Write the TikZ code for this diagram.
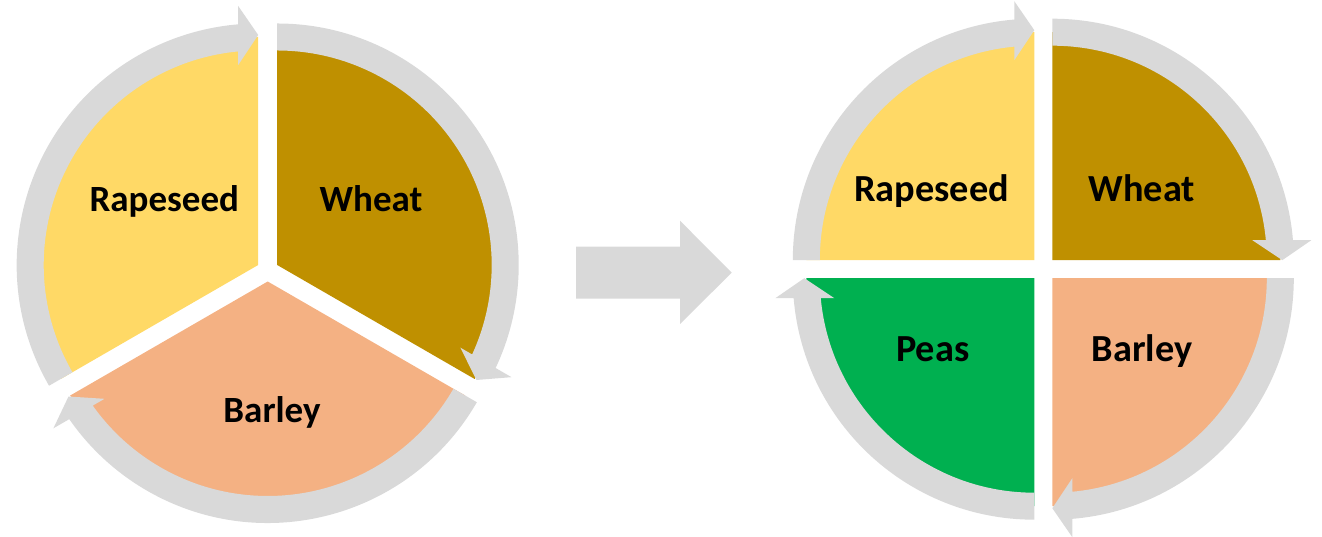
\documentclass[tikz,border=0pt]{standalone}
\usepackage{fontspec}
\setmainfont{Carlito}
\definecolor{rapec}{HTML}{FFD966}
\definecolor{wheatc}{HTML}{BF9000}
\definecolor{barleyc}{HTML}{F4B183}
\definecolor{peasc}{HTML}{00B050}
\definecolor{ringc}{HTML}{D9D9D9}
% #1,#2 centre, #3 angle of the arrow tip, #4 span of the arc
\newcommand\ringarrow[4]{%
  \begin{scope}[shift={(#1,#2)},rotate={#3-90}]
    \fill[ringc] ({90+#4}:241.5) arc[start angle={90+#4}, end angle=94.75, radius=241.5]
      -- (-20,259) -- (0,230) -- (-20,200) -- (95.35:214.5)
      arc[start angle=95.35, end angle={90+#4}, radius=214.5] -- cycle;
  \end{scope}}
% #1 colour, #2,#3 centre, #4 start angle, #5 end angle
\newcommand\sector[5]{%
  \fill[#1] (#2,#3) -- ++(#4:228) arc[start angle=#4, end angle=#5, radius=228] -- cycle;}
\tikzset{lbl/.style={anchor=base, text=black, font=\fontsize{37}{41}\selectfont\bfseries},
         lblb/.style={anchor=base, text=black, font=\fontsize{38.3}{42}\selectfont\bfseries}}
\begin{document}
\begin{tikzpicture}[x=1pt,y=1pt]
\useasboundingbox (0,0) rectangle (1322,537);
% ---- left pie ----
\sector{rapec}{258.2}{272.0}{90}{210}
\sector{wheatc}{277.2}{272.0}{-30}{90}
\sector{barleyc}{267.7}{255.5}{210}{330}
\ringarrow{258.2}{272.0}{90}{120}
\ringarrow{277.2}{272.0}{-30}{120}
\ringarrow{267.7}{255.5}{210}{120}
\node[lbl] (l-rape) at (164.3,325) {Rapeseed};
\node[lbl] (l-wheat) at (371,325) {Wheat};
\node[lbl] (l-barley) at (272,114.2) {Barley};
% ---- middle arrow ----
\fill[ringc] (576,238.3) -- (680,238.3) -- (680,213) -- (731.7,264.3)
  -- (680,316.3) -- (680,290.3) -- (576,290.3) -- cycle;
% ---- right pie ----
\sector{rapec}{1034.3}{276.8}{90}{180}
\sector{wheatc}{1052.3}{276.8}{0}{90}
\sector{barleyc}{1052.3}{258.8}{270}{360}
\sector{peasc}{1034.3}{258.8}{180}{270}
\ringarrow{1034.3}{276.8}{90}{90}
\ringarrow{1052.3}{276.8}{0}{90}
\ringarrow{1052.3}{258.8}{270}{90}
\ringarrow{1034.3}{258.8}{180}{90}
\node[lblb] (r-rape) at (931.7,335.3) {Rapeseed};
\node[lblb] (r-wheat) at (1141.9,335.3) {Wheat};
\node[lblb] (r-peas) at (932.7,175.1) {Peas};
\node[lblb] (r-barley) at (1142.2,175.1) {Barley};
\end{tikzpicture}
\end{document}
